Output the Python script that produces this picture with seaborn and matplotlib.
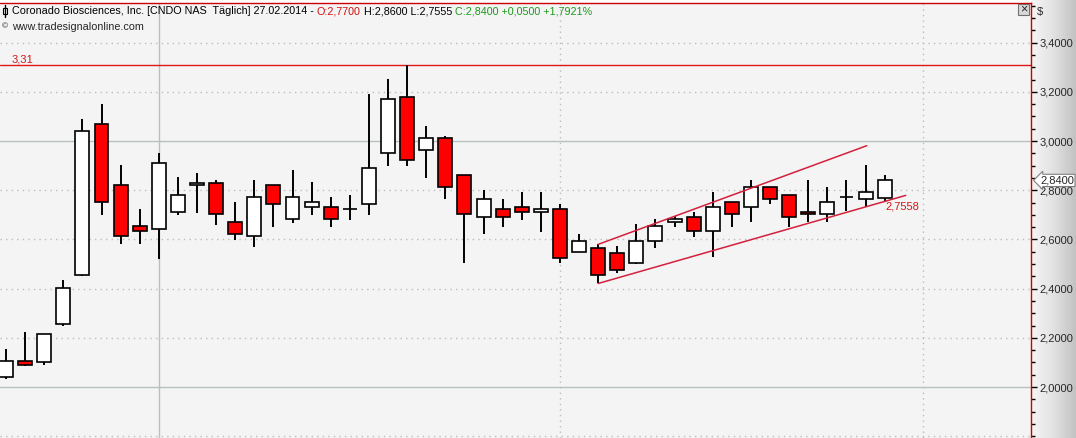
import numpy as np
import pandas as pd
import seaborn as sns
import matplotlib.pyplot as plt
from matplotlib.patches import Rectangle
from matplotlib.lines import Line2D
from matplotlib.colors import LinearSegmentedColormap
from matplotlib import transforms

# daily OHLC, CNDO (last bar = 27.02.2014)
opens = [2.042, 2.104, 2.103, 2.255, 2.454, 3.069, 2.820, 2.653, 2.641, 2.710,
         2.820, 2.831, 2.670, 2.613, 2.820, 2.682, 2.730, 2.730, 2.722, 2.743,
         2.950, 3.178, 2.963, 3.011, 2.861, 2.690, 2.722, 2.730, 2.710, 2.722,
         2.551, 2.564, 2.543, 2.503, 2.592, 2.670, 2.690, 2.633, 2.751, 2.730,
         2.812, 2.779, 2.711, 2.702, 2.771, 2.763, 2.770]
highs = [2.156, 2.224, 2.216, 2.435, 3.088, 3.150, 2.901, 2.724, 2.950, 2.852,
         2.869, 2.840, 2.751, 2.841, 2.820, 2.882, 2.833, 2.772, 2.779, 3.191,
         3.252, 3.310, 3.061, 3.019, 2.861, 2.800, 2.764, 2.793, 2.793, 2.744,
         2.622, 2.580, 2.573, 2.663, 2.683, 2.694, 2.711, 2.793, 2.751, 2.841,
         2.812, 2.779, 2.841, 2.812, 2.841, 2.902, 2.860]
lows = [2.034, 2.085, 2.089, 2.250, 2.450, 2.700, 2.580, 2.580, 2.522, 2.699,
        2.709, 2.660, 2.599, 2.570, 2.652, 2.668, 2.700, 2.652, 2.679, 2.700,
        2.900, 2.900, 2.851, 2.763, 2.503, 2.621, 2.652, 2.680, 2.631, 2.503,
        2.550, 2.421, 2.462, 2.500, 2.566, 2.652, 2.609, 2.530, 2.652, 2.670,
        2.743, 2.652, 2.670, 2.670, 2.714, 2.733, 2.7555]
closes = [2.104, 2.091, 2.214, 2.401, 3.039, 2.751, 2.613, 2.633, 2.909, 2.779,
          2.831, 2.702, 2.621, 2.771, 2.743, 2.771, 2.751, 2.682, 2.722, 2.889,
          3.170, 2.922, 3.011, 2.812, 2.702, 2.763, 2.690, 2.710, 2.722, 2.523,
          2.592, 2.454, 2.474, 2.592, 2.653, 2.682, 2.633, 2.730, 2.702, 2.812,
          2.763, 2.690, 2.703, 2.751, 2.771, 2.791, 2.840]

# trend channel (bar index, price)
chan_up_x = [31, 45.06]
chan_up_y = [2.580, 2.981]
chan_lo_x = [31, 47.1]
chan_lo_y = [2.421, 2.779]
resistance = 3.31
month_bars = [29, 48]   # dotted month separators
year_bar = 8            # solid year separator

W, H = 1076, 438
RED = '#ff0000'
LINE_RED = '#d4203c'

sns.set_style("white")
plt.rcParams['font.family'] = ['Liberation Sans', 'DejaVu Sans']

df = pd.DataFrame({'open': opens, 'high': highs, 'low': lows, 'close': closes})
df['idx'] = np.arange(len(df))
df['up'] = df['close'] >= df['open']
df['bottom'] = df[['open', 'close']].min(axis=1)
df['body'] = (df['close'] - df['open']).abs()

fig = plt.figure(figsize=(W / 100, H / 100), dpi=100)
fig.patch.set_facecolor('white')

# grey gradient behind the price scale
gax = fig.add_axes([1031 / W, 0, 45 / W, 1], zorder=-1)
grad = LinearSegmentedColormap.from_list('g', ['#f6f6f6', '#e2e2e2', '#c2c2c2'])
gax.imshow(np.linspace(0, 1, 200)[None, :], aspect='auto', cmap=grad)
gax.axis('off')

ax = fig.add_axes([0, 0, 1031 / W, 435 / H])
ax.set_facecolor('#f4f4f4')

# grid
for v in np.arange(1.8, 3.55, 0.2):
    if abs(v - 2.0) < 1e-6 or abs(v - 3.0) < 1e-6:
        ax.axhline(v, color='#b9c0c0', lw=1, zorder=0)
    else:
        ax.axhline(v, color='#bcbcbc', lw=1, ls=(0, (1, 3)), zorder=0)
ax.axvline(year_bar, color='#b9c0c0', lw=1, zorder=0)
for m in month_bars:
    ax.axvline(m, color='#bcbcbc', lw=1, ls=(0, (1, 3)), zorder=0)

# candles
ax.vlines(df['idx'], df['low'], df['high'], color='black', lw=1.4, zorder=2)
ax.bar(df['idx'], df['body'], bottom=df['bottom'], width=0.73,
       color=np.where(df['up'], 'white', RED), edgecolor='black',
       linewidth=1.2, zorder=3)

# resistance + channel
ax.axhline(resistance, color='#e01818', lw=1, zorder=1)
ax.text(0.31, 3.333, '3,31', color='#d01818', fontsize=8, va='center')
sns.lineplot(x=chan_up_x, y=chan_up_y, color=LINE_RED, lw=1.1, ax=ax, zorder=4)
sns.lineplot(x=chan_lo_x, y=chan_lo_y, color=LINE_RED, lw=1.1, ax=ax, zorder=4)
ax.text(46.05, 2.732, '2,7558', color='#d01818', fontsize=8, va='center')

ax.set_xlim(-0.314, 53.66)
ax.set_ylim(1.793, 3.561)

# price scale on the right
ax.yaxis.tick_right()
majors = np.arange(2.0, 3.41, 0.2)
ax.set_yticks(majors)
ax.set_yticklabels([f"{v:.4f}".replace('.', ',') for v in majors])
ax.set_yticks(np.arange(1.8, 3.56, 0.05), minor=True)
ax.tick_params(axis='y', which='major', length=4, width=1, color='black',
               labelsize=8, pad=2, right=True, left=False)
ax.tick_params(axis='y', which='minor', length=3, width=1, color='black',
               right=True, left=False)
ax.set_xticks([])
for s in ['left', 'bottom']:
    ax.spines[s].set_visible(False)
for s in ['top', 'right']:
    ax.spines[s].set_color('#cc0000')
    ax.spines[s].set_linewidth(1)

# last price marker
tr = transforms.blended_transform_factory(fig.transFigure, ax.transData)
ax.text(1040 / W, 2.84, '2,8400', transform=tr, fontsize=8, va='center',
        ha='left', clip_on=False, zorder=6,
        bbox=dict(boxstyle='larrow,pad=0.1', fc='white', ec='#808080', lw=0.8))

# header line
fig.canvas.draw()
renderer = fig.canvas.get_renderer()
segments = [("Coronado Biosciences, Inc. [CNDO NAS  Täglich] 27.02.2014 - ", 'black'),
            ("O:2,7700", '#d01010'),
            (" H:2,8600 L:2,7555 ", 'black'),
            ("C:2,8400 +0,0500 +1,7921%", '#1a9a1a')]
xpos = 12 / W
for txt, col in segments:
    t = fig.text(xpos, 1 - 11 / H, txt, color=col, fontsize=7.75, va='center', ha='left')
    bb = t.get_window_extent(renderer)
    xpos += bb.width / W
fig.text(2 / W, 1 - 27 / H, '©', fontsize=6, va='center')
fig.text(12 / W, 1 - 27 / H, 'www.tradesignalonline.com', fontsize=7.75, va='center')

# small candle glyph before the title
fig.add_artist(Line2D([5 / W, 5 / W], [1 - 5 / H, 1 - 17 / H], color='black', lw=1))
fig.add_artist(Rectangle((3 / W, 1 - 14 / H), 4 / W, 6 / H, fc='white', ec='black', lw=0.8))

# close box and currency
fig.add_artist(Rectangle((1018 / W, 1 - 15 / H), 11 / W, 11 / H, fc='#d8d8d8', ec='#707070', lw=0.8))
fig.text(1023.5 / W, 1 - 9.5 / H, '×', fontsize=9, ha='center', va='center')
fig.text(1037 / W, 1 - 12 / H, '$', fontsize=8, va='center')

fig.savefig('out.png', dpi=100)
